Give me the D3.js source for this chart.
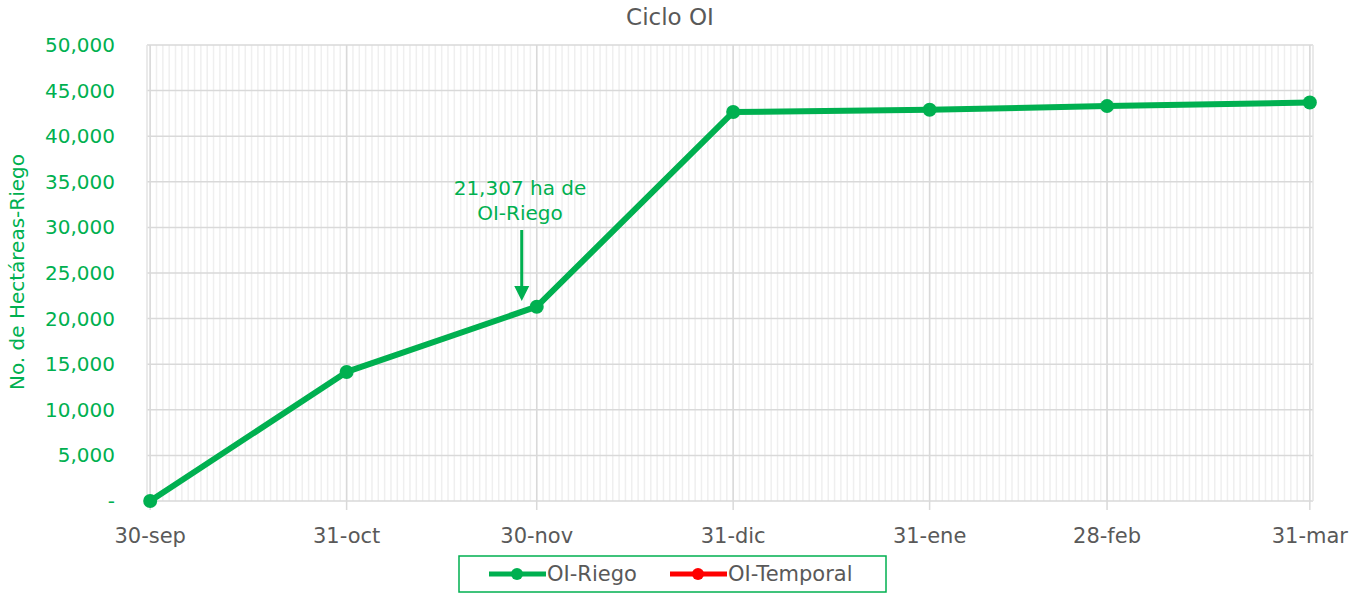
<!DOCTYPE html>
<html>
<head>
<meta charset="utf-8">
<script src="https://cdn.jsdelivr.net/npm/d3@7"></script>
<style>
  body { margin: 0; background: #fff; }
  text { font-family: "DejaVu Sans", sans-serif; }
</style>
</head>
<body>
<script>
var width = 1362, height = 593;

// data
var dates = ["2019-09-30","2019-10-31","2019-11-30","2019-12-31","2020-01-31","2020-02-28","2020-03-31"];
var tickLabels = ["30-sep","31-oct","30-nov","31-dic","31-ene","28-feb","31-mar"];
var riego = [0, 14150, 21307, 42650, 42900, 43300, 43700];
var yTicks = [0,5000,10000,15000,20000,25000,30000,35000,40000,45000,50000];

var parse = d3.timeParse("%Y-%m-%d");
var days = dates.map(parse);
var green = "#00B050", gray = "#595959";

var svg = d3.select("body")
  .append("svg")
  .attr("width", width)
  .attr("height", height);

var x = d3.scaleTime()
  .domain([d3.timeHour.offset(days[0], -12), d3.timeHour.offset(days[days.length-1], 12)])
  .range([147, 1313]);

var y = d3.scaleLinear()
  .domain([0, 50000])
  .range([501, 45]);

// minor daily gridlines
var allDays = d3.timeDay.range(days[0], d3.timeDay.offset(days[days.length-1], 1));
svg.selectAll(".minor")
  .data(allDays)
  .enter()
  .append("line")
  .attr("class","minor")
  .attr("x1", function(d) { return x(d) })
  .attr("x2", function(d) { return x(d) })
  .attr("y1", y(50000))
  .attr("y2", y(0))
  .attr("stroke","#efefef")
  .attr("stroke-width",1.5);

// horizontal gridlines
svg.selectAll(".hgrid")
  .data(yTicks)
  .enter()
  .append("line")
  .attr("x1", x.range()[0])
  .attr("x2", x.range()[1])
  .attr("y1", function(d) { return y(d) })
  .attr("y2", function(d) { return y(d) })
  .attr("stroke","#d9d9d9")
  .attr("stroke-width",1.5);

// border sides of plot
svg.append("line")
  .attr("x1", x.range()[0]).attr("x2", x.range()[0])
  .attr("y1", y(50000)).attr("y2", y(0))
  .attr("stroke","#e3e3e3").attr("stroke-width",1.5);
svg.append("line")
  .attr("x1", x.range()[1]).attr("x2", x.range()[1])
  .attr("y1", y(50000)).attr("y2", y(0))
  .attr("stroke","#e3e3e3").attr("stroke-width",1.5);

// major vertical gridlines + tick marks
svg.selectAll(".vgrid")
  .data(days)
  .enter()
  .append("line")
  .attr("x1", function(d) { return x(d) })
  .attr("x2", function(d) { return x(d) })
  .attr("y1", y(50000))
  .attr("y2", y(0) + 9)
  .attr("stroke","#d9d9d9")
  .attr("stroke-width",1.5);

// x labels
svg.selectAll(".xlab")
  .data(days)
  .enter()
  .append("text")
  .attr("x", function(d) { return x(d) })
  .attr("y", 543)
  .attr("text-anchor","middle")
  .attr("font-size",21)
  .attr("fill",gray)
  .text(function(d,i) { return tickLabels[i] });

// y labels
svg.selectAll(".ylab")
  .data(yTicks)
  .enter()
  .append("text")
  .attr("x", 115)
  .attr("y", function(d) { return y(d) + 7 })
  .attr("text-anchor","end")
  .attr("font-size",20)
  .attr("fill",green)
  .text(function(d) { return d === 0 ? "-" : d3.format(",")(d) });

// y title
svg.append("text")
  .attr("transform","translate(24,272) rotate(-90)")
  .attr("text-anchor","middle")
  .attr("font-size",20)
  .attr("fill",green)
  .text("No. de Hectáreas-Riego");

// title
svg.append("text")
  .attr("x", 670)
  .attr("y", 25)
  .attr("text-anchor","middle")
  .attr("font-size",23)
  .attr("fill",gray)
  .text("Ciclo OI");

// series line
var line = d3.line()
  .x(function(d,i) { return x(days[i]) })
  .y(function(d) { return y(d) });

svg.append("path")
  .datum(riego)
  .attr("d", line)
  .attr("fill","none")
  .attr("stroke",green)
  .attr("stroke-width",6)
  .attr("stroke-linejoin","round");

svg.selectAll(".pt")
  .data(riego)
  .enter()
  .append("circle")
  .attr("cx", function(d,i) { return x(days[i]) })
  .attr("cy", function(d) { return y(d) })
  .attr("r",7)
  .attr("fill",green);

// annotation
var ax = x(days[2]) - 15;
svg.append("text")
  .attr("x", 520).attr("y", 195)
  .attr("text-anchor","middle")
  .attr("font-size",20)
  .attr("fill",green)
  .text("21,307 ha de");
svg.append("text")
  .attr("x", 520).attr("y", 220)
  .attr("text-anchor","middle")
  .attr("font-size",20)
  .attr("fill",green)
  .text("OI-Riego");
svg.append("line")
  .attr("x1", ax).attr("x2", ax)
  .attr("y1", 230).attr("y2", 290)
  .attr("stroke",green).attr("stroke-width",3);
svg.append("path")
  .attr("d", "M" + (ax-7.5) + ",286 L" + (ax+7.5) + ",286 L" + ax + ",301 Z")
  .attr("fill",green);

// legend
var legend = svg.append("g");
legend.append("rect")
  .attr("x",459).attr("y",556)
  .attr("width",427).attr("height",36)
  .attr("fill","#fff")
  .attr("stroke",green)
  .attr("stroke-width",1.5);

var legendItems = [{name:"OI-Riego", color:green, x:489}, {name:"OI-Temporal", color:"#FF0000", x:670}];
legendItems.forEach(function(item) {
  legend.append("line")
    .attr("x1", item.x).attr("x2", item.x + 57)
    .attr("y1", 574).attr("y2", 574)
    .attr("stroke", item.color).attr("stroke-width",5);
  legend.append("circle")
    .attr("cx", item.x + 28).attr("cy", 574).attr("r",6)
    .attr("fill", item.color);
  legend.append("text")
    .attr("x", item.x + 58).attr("y", 581)
    .attr("font-size",21)
    .attr("fill",gray)
    .text(item.name);
});
</script>
</body>
</html>
